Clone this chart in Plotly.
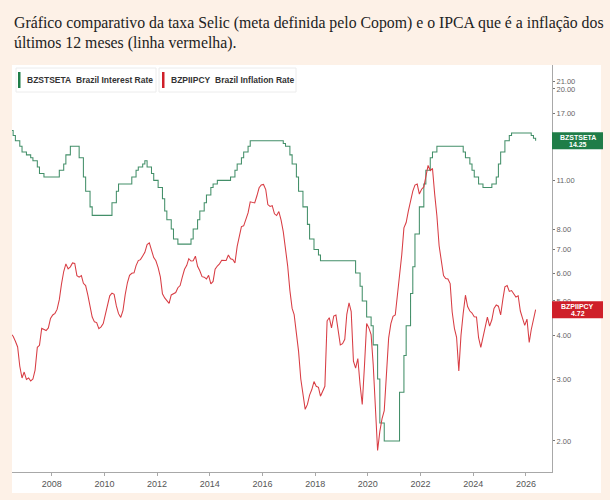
import math
import plotly.graph_objects as go

# ---------------- data (monthly, Jun 2006 .. May 2026) ----------------
start_year, start_month = 2006, 6

selic = [
    15.25, 14.75, 14.25, 14.25, 13.75, 13.25, 13.25,                                   # 2006 Jun-Dec
    13.00, 13.00, 12.75, 12.50, 12.50, 12.00, 11.50, 11.50, 11.25, 11.25, 11.25, 11.25,  # 2007
    11.25, 11.25, 11.25, 11.75, 11.75, 12.25, 13.00, 13.00, 13.75, 13.75, 13.75, 13.75,  # 2008
    12.75, 12.75, 11.25, 10.25, 10.25, 9.25, 8.75, 8.75, 8.75, 8.75, 8.75, 8.75,         # 2009
    8.75, 8.75, 8.75, 9.50, 9.50, 10.25, 10.75, 10.75, 10.75, 10.75, 10.75, 10.75,       # 2010
    11.25, 11.25, 11.75, 12.00, 12.00, 12.25, 12.50, 12.00, 12.00, 11.50, 11.00, 11.00,  # 2011
    10.50, 10.50, 9.75, 9.00, 8.50, 8.50, 8.00, 7.50, 7.50, 7.25, 7.25, 7.25,            # 2012
    7.25, 7.25, 7.25, 7.50, 8.00, 8.00, 8.50, 9.00, 9.00, 9.50, 10.00, 10.00,            # 2013
    10.50, 10.75, 10.75, 11.00, 11.00, 11.00, 11.00, 11.00, 11.00, 11.25, 11.25, 11.75,  # 2014
    12.25, 12.25, 12.75, 13.25, 13.25, 13.75, 14.25, 14.25, 14.25, 14.25, 14.25, 14.25,  # 2015
    14.25, 14.25, 14.25, 14.25, 14.25, 14.25, 14.25, 14.25, 14.25, 14.00, 13.75, 13.75,  # 2016
    13.00, 12.25, 12.25, 11.25, 10.25, 10.25, 9.25, 9.25, 8.25, 7.50, 7.50, 7.00,        # 2017
    7.00, 6.75, 6.50, 6.50, 6.50, 6.50, 6.50, 6.50, 6.50, 6.50, 6.50, 6.50,              # 2018
    6.50, 6.50, 6.50, 6.50, 6.50, 6.50, 6.00, 6.00, 5.50, 5.00, 5.00, 4.50,              # 2019
    4.50, 4.25, 3.75, 3.75, 3.00, 2.25, 2.25, 2.00, 2.00, 2.00, 2.00, 2.00,              # 2020
    2.00, 2.00, 2.75, 2.75, 3.50, 4.25, 4.25, 5.25, 6.25, 7.75, 7.75, 9.25,              # 2021
    9.25, 10.75, 11.75, 11.75, 12.75, 13.25, 13.25, 13.75, 13.75, 13.75, 13.75, 13.75,   # 2022
    13.75, 13.75, 13.75, 13.75, 13.75, 13.75, 13.75, 13.25, 12.75, 12.75, 12.25, 11.75,  # 2023
    11.25, 11.25, 10.75, 10.75, 10.50, 10.50, 10.50, 10.50, 10.75, 10.75, 11.25, 12.25,  # 2024
    13.25, 13.25, 14.25, 14.25, 14.75, 15.00, 15.00, 15.00, 15.00, 15.00, 15.00, 15.00,  # 2025
    15.00, 15.00, 14.75, 14.50, 14.25,                                                   # 2026 Jan-May
]

ipca = [
    4.03, 3.97, 3.84, 3.70, 3.26, 3.02, 3.14,                                   # 2006 Jun-Dec
    2.99, 3.02, 2.96, 3.00, 3.18, 3.69, 3.74, 4.18, 4.15, 4.12, 4.19, 4.46,     # 2007
    4.56, 4.61, 4.73, 5.04, 5.58, 6.06, 6.37, 6.17, 6.25, 6.41, 6.39, 5.90,     # 2008
    5.84, 5.90, 5.61, 5.53, 5.20, 4.80, 4.50, 4.36, 4.34, 4.17, 4.22, 4.31,     # 2009
    4.59, 4.83, 5.17, 5.26, 5.22, 4.84, 4.60, 4.49, 4.70, 5.20, 5.63, 5.91,     # 2010
    5.99, 6.01, 6.30, 6.51, 6.55, 6.71, 6.87, 7.23, 7.31, 6.97, 6.64, 6.50,     # 2011
    6.22, 5.85, 5.24, 5.10, 4.99, 4.92, 5.20, 5.24, 5.28, 5.45, 5.53, 5.84,     # 2012
    6.15, 6.31, 6.59, 6.49, 6.50, 6.70, 6.27, 6.09, 5.86, 5.84, 5.77, 5.91,     # 2013
    5.59, 5.68, 6.15, 6.28, 6.37, 6.52, 6.50, 6.51, 6.75, 6.59, 6.56, 6.41,     # 2014
    7.14, 7.70, 8.13, 8.17, 8.47, 8.89, 9.56, 9.53, 9.49, 9.93, 10.48, 10.67,   # 2015
    10.71, 10.36, 9.39, 9.28, 9.32, 8.84, 8.74, 8.97, 8.48, 7.87, 6.99, 6.29,   # 2016
    5.35, 4.76, 4.57, 4.08, 3.60, 3.00, 2.71, 2.46, 2.54, 2.70, 2.80, 2.95,     # 2017
    2.86, 2.84, 2.68, 2.76, 2.86, 4.39, 4.48, 4.19, 4.53, 4.56, 4.05, 3.75,     # 2018
    3.78, 3.89, 4.58, 4.94, 4.66, 3.37, 3.22, 3.43, 2.89, 2.54, 3.27, 4.31,     # 2019
    4.19, 4.01, 3.30, 2.40, 1.88, 2.13, 2.31, 2.44, 3.14, 3.92, 4.31, 4.52,     # 2020
    4.56, 5.20, 6.10, 6.76, 8.06, 8.35, 8.99, 9.68, 10.25, 10.67, 10.74, 10.06, # 2021
    10.38, 10.54, 11.30, 12.13, 11.73, 11.89, 10.07, 8.73, 7.17, 6.47, 5.90, 5.79,  # 2022
    5.77, 5.60, 4.65, 4.18, 3.94, 3.16, 3.99, 4.61, 5.19, 4.82, 4.68, 4.62,     # 2023
    4.51, 4.50, 3.93, 3.69, 3.93, 4.23, 4.50, 4.24, 4.42, 4.76, 4.87, 4.83,     # 2024
    4.56, 5.06, 5.48, 5.53, 5.32, 5.35, 5.23, 5.13, 5.17, 4.68, 4.46, 4.26,     # 2025
    4.44, 3.81, 4.14, 4.39, 4.72,                                               # 2026 Jan-May
]

ytick_vals = [2, 3, 4, 5, 6, 7, 8, 11, 17, 20, 21]
ytick_text = ["2.00", "3.00", "4.00", "5.00", "6.00", "7.00", "8.00",
              "11.00", "17.00", "20.00", "21.00"]
xtick_years = [2008, 2010, 2012, 2014, 2016, 2018, 2020, 2022, 2024, 2026]

title_line1 = "Gráfico comparativo da taxa Selic (meta definida pelo Copom) e o IPCA que é a inflação dos"
title_line2 = "últimos 12 meses (linha vermelha)."
sel_code, sel_name = "BZSTSETA", "Brazil Interest Rate"
inf_code, inf_name = "BZPIIPCY", "Brazil Inflation Rate"

# ---------------- build ----------------
def month_dates(n):
    out = []
    y, m = start_year, start_month
    for _ in range(n):
        out.append(f"{y}-{m:02d}-15")
        m += 1
        if m > 12:
            m, y = 1, y + 1
    return out

dates = month_dates(len(ipca))

W, H = 610, 500
ML, MR, MT, MB = 12, 58, 65, 28
PW, PH = W - ML - MR, H - MT - MB

def px(p):   # page x pixel -> paper x
    return (p - ML) / PW

def py(p):   # page y pixel -> paper y
    return (H - MB - p) / PH

y_lo, y_hi = 0.2129, 1.3692

def yfrac(v):
    return (math.log10(v) - y_lo) / (y_hi - y_lo)

GREEN_LINE = "#438f69"
RED_LINE = "#d83d44"
GREEN_BOX = "#1f7d48"
RED_BOX = "#cf1f29"

fig = go.Figure()
fig.add_trace(go.Scatter(x=dates, y=selic, mode="lines", line_shape="hv",
                         line=dict(color=GREEN_LINE, width=1.05), showlegend=False,
                         hoverinfo="skip"))
fig.add_trace(go.Scatter(x=dates, y=ipca, mode="lines",
                         line=dict(color=RED_LINE, width=1.05), showlegend=False,
                         hoverinfo="skip"))

shapes = []
# white panel
shapes.append(dict(type="rect", xref="paper", yref="paper", layer="below",
                   x0=0, x1=px(601), y0=py(493), y1=1.0,
                   fillcolor="white", line=dict(width=0)))
# legend boxes
for (x0, x1) in [(16, 156), (159, 296)]:
    shapes.append(dict(type="rect", xref="paper", yref="paper", layer="below",
                       x0=px(x0), x1=px(x1), y0=py(92), y1=py(68),
                       fillcolor="white", line=dict(color="#ececec", width=1)))
shapes.append(dict(type="rect", xref="paper", yref="paper",
                   x0=px(18), x1=px(20.5), y0=py(88), y1=py(72),
                   fillcolor=GREEN_BOX, line=dict(width=0)))
shapes.append(dict(type="rect", xref="paper", yref="paper",
                   x0=px(162), x1=px(164.5), y0=py(88), y1=py(72),
                   fillcolor=RED_BOX, line=dict(width=0)))

annotations = []
# title
tf = dict(family="Liberation Serif", size=15.8, color="#222222")
annotations.append(dict(xref="paper", yref="paper", x=px(12), y=py(23),
                        xanchor="left", yanchor="middle", showarrow=False,
                        text=title_line1, font=tf))
annotations.append(dict(xref="paper", yref="paper", x=px(12), y=py(43),
                        xanchor="left", yanchor="middle", showarrow=False,
                        text=title_line2, font=tf))
# legend texts
lf = dict(family="Liberation Sans", size=8.5, color="#333333")
annotations += [
    dict(xref="paper", yref="paper", x=px(25), y=py(80), xanchor="left", yanchor="middle",
         showarrow=False, text=f"<b>{sel_code}</b>", font=lf),
    dict(xref="paper", yref="paper", x=px(74), y=py(80), xanchor="left", yanchor="middle",
         showarrow=False, text=f"<b>{sel_name}</b>", font=lf),
    dict(xref="paper", yref="paper", x=px(169), y=py(80), xanchor="left", yanchor="middle",
         showarrow=False, text=f"<b>{inf_code}</b>", font=lf),
    dict(xref="paper", yref="paper", x=px(213), y=py(80), xanchor="left", yanchor="middle",
         showarrow=False, text=f"<b>{inf_name}</b>", font=lf),
]

# last-value boxes on the right axis
half = 8.5 / PH
bf = dict(family="Liberation Sans", size=7, color="white")
for code, val, col in [(sel_code, selic[-1], GREEN_BOX), (inf_code, ipca[-1], RED_BOX)]:
    yc = yfrac(val)
    shapes.append(dict(type="rect", xref="paper", yref="paper",
                       x0=1.0, x1=px(603), y0=yc - half, y1=yc + half,
                       fillcolor=col, line=dict(width=0)))
    annotations.append(dict(xref="paper", yref="paper", x=px(577.5), y=yc + 3.6 / PH,
                            xanchor="center", yanchor="middle", showarrow=False,
                            text=f"<b>{code}</b>", font=bf))
    annotations.append(dict(xref="paper", yref="paper", x=px(577.5), y=yc - 3.6 / PH,
                            xanchor="center", yanchor="middle", showarrow=False,
                            text=f"<b>{val:.2f}</b>", font=bf))

fig.update_layout(
    width=W, height=H,
    margin=dict(l=ML, r=MR, t=MT, b=MB, pad=0),
    paper_bgcolor="#fdf1e7", plot_bgcolor="white",
    shapes=shapes, annotations=annotations,
    showlegend=False,
    xaxis=dict(type="date", range=["2006-06-29", "2026-12-28"],
               tickvals=[f"{y}-01-01" for y in xtick_years],
               ticktext=[str(y) for y in xtick_years],
               showgrid=False, zeroline=False, showline=True,
               linecolor="#a8a8a8", linewidth=1,
               ticks="outside", ticklen=3, tickcolor="#a8a8a8",
               tickfont=dict(family="Liberation Sans", size=9, color="#555555")),
    yaxis=dict(type="log", side="right", range=[y_lo, y_hi],
               tickvals=ytick_vals, ticktext=ytick_text,
               showgrid=False, zeroline=False, showline=True,
               linecolor="#a8a8a8", linewidth=1,
               ticks="outside", ticklen=2, tickcolor="#777777",
               tickfont=dict(family="Liberation Sans", size=7.5, color="#666666")),
)

fig.write_html("out.html")
